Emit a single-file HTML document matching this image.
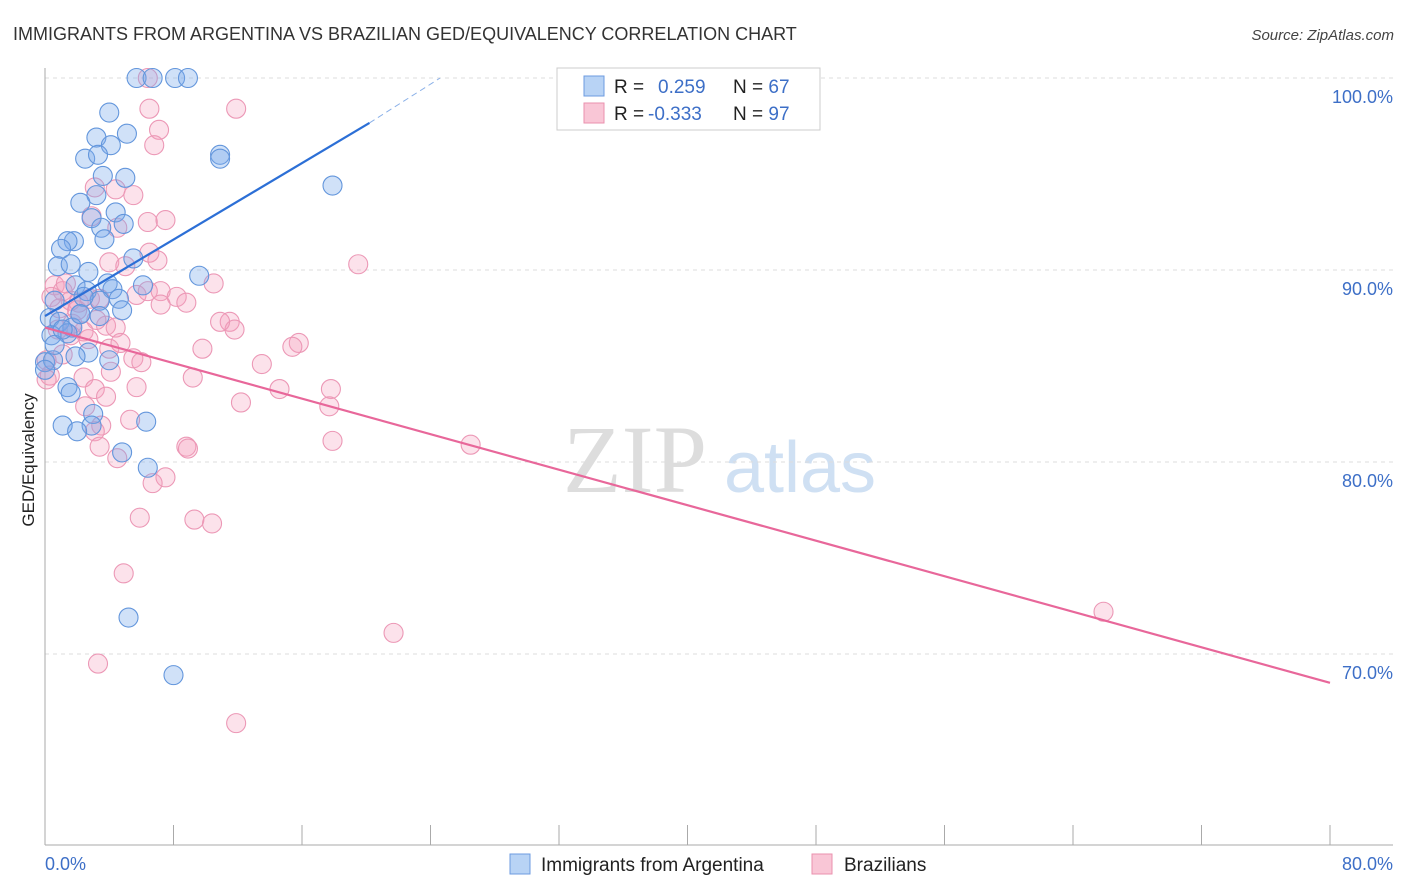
<!DOCTYPE html>
<html><head><meta charset="utf-8"><style>
body{margin:0;background:#fff;font-family:"Liberation Sans",sans-serif}
svg{display:block}
</style></head><body>
<svg id="chart" width="1406" height="892" viewBox="0 0 1406 892" xmlns="http://www.w3.org/2000/svg">
<text x="13" y="40" font-size="18" fill="#333">IMMIGRANTS FROM ARGENTINA VS BRAZILIAN GED/EQUIVALENCY CORRELATION CHART</text>
<text x="1394" y="40" font-size="15" fill="#444" font-style="italic" text-anchor="end">Source: ZipAtlas.com</text>
<text transform="translate(34,460) rotate(-90)" font-size="17" fill="#222" text-anchor="middle">GED/Equivalency</text>
<g><text x="635" y="492" font-size="96" fill="#ddd" font-family="Liberation Serif" text-anchor="middle">ZIP</text><text x="800" y="492" font-size="72" fill="#cfe0f3" text-anchor="middle">atlas</text></g>
<g id="grid"></g><g id="marks"></g><g id="lines"></g>
<g>
<rect x="557" y="68" width="263" height="62" fill="#fff" stroke="#ccc"/>
<rect x="584" y="76" width="20" height="20" fill="#b8d3f5" stroke="#6c9be0"/>
<rect x="584" y="103" width="20" height="20" fill="#f9c6d6" stroke="#ea90ae"/>
<text x="614" y="93" font-size="19" fill="#222">R = <tspan fill="#3d6fc7" x="658">0.259</tspan><tspan fill="#222" x="733">N = </tspan><tspan fill="#3d6fc7">67</tspan></text>
<text x="614" y="120" font-size="19" fill="#222">R = <tspan fill="#3d6fc7" x="648">-0.333</tspan><tspan fill="#222" x="733">N = </tspan><tspan fill="#3d6fc7">97</tspan></text>
</g>
<g>
<rect x="510" y="854" width="20" height="20" fill="#b8d3f5" stroke="#6c9be0"/>
<text x="541" y="871" font-size="19" fill="#222">Immigrants from Argentina</text>
<rect x="812" y="854" width="20" height="20" fill="#f9c6d6" stroke="#ea90ae"/>
<text x="844" y="871" font-size="19" fill="#222">Brazilians</text>
</g>
</svg>
<script>
const yTicks=[100,90,80,70];
const yTickLabels=["100.0%","90.0%","80.0%","70.0%"];
const xTicks=[0,8,16,24,32,40,48,56,64,72,80];
const blueX=[5.7,6.7,8.1,8.9,4.0,3.2,5.1,4.1,2.5,3.3,10.9,10.9,3.6,5.0,17.9,3.2,2.2,2.9,4.4,4.9,3.5,3.7,1.8,1.4,1.0,5.5,0.8,1.6,2.7,9.6,3.9,1.9,2.6,4.2,6.1,3.4,4.6,0.6,4.8,2.2,0.3,0.9,1.7,1.4,0.4,2.7,1.9,0.0,0.5,0.0,1.4,1.6,1.1,3.0,2.9,2.0,6.3,4.8,6.4,5.2,8.0,4.0,0.6,1.1,3.4,2.4,2.2];
const blueY=[100,100,100,100,98.2,96.9,97.1,96.5,95.8,96.0,96.0,95.8,94.9,94.8,94.4,93.9,93.5,92.7,93.0,92.4,92.2,91.6,91.5,91.5,91.1,90.6,90.2,90.3,89.9,89.7,89.3,89.2,88.9,89.0,89.2,88.4,88.5,88.4,87.9,87.7,87.5,87.3,87.0,86.7,86.6,85.7,85.5,85.2,85.3,84.8,83.9,83.6,81.9,82.5,81.9,81.6,82.1,80.5,79.7,71.9,68.9,85.3,86.1,86.9,87.6,88.6,87.7];
const pinkX=[6.4,11.9,6.5,7.1,6.8,3.1,4.4,5.5,6.4,7.5,2.9,4.5,6.5,4.0,5.0,7.0,19.5,10.5,5.7,6.4,7.2,8.2,8.8,7.2,0.6,1.1,1.6,2.1,3.4,11.5,11.8,10.9,3.8,4.4,3.2,2.4,1.6,15.8,15.4,9.8,4.0,4.7,5.5,6.0,13.5,1.1,0.1,0.3,2.4,9.2,4.1,3.1,5.7,14.6,17.8,3.8,2.5,12.2,17.7,5.3,3.5,3.1,17.9,26.5,8.8,8.9,3.4,4.5,7.5,6.7,5.9,9.3,10.4,4.9,65.9,21.7,3.3,11.9,0.9,1.7,2.7,0.4,1.3,0.1,2.0,0.8,2.8];
const pinkY=[100,98.4,98.4,97.3,96.5,94.3,94.2,93.9,92.5,92.6,92.8,92.2,90.9,90.4,90.2,90.5,90.3,89.3,88.7,88.9,88.9,88.6,88.3,88.2,89.2,88.9,88.4,88.3,88.5,87.3,86.9,87.3,87.1,87.0,87.4,86.8,86.6,86.2,86.0,85.9,85.9,86.2,85.4,85.2,85.1,85.6,85.3,84.5,84.4,84.4,84.7,83.8,83.9,83.8,83.8,83.4,82.9,83.1,82.9,82.2,81.9,81.6,81.1,80.9,80.8,80.7,80.8,80.2,79.2,78.9,77.1,77.0,76.8,74.2,72.2,71.1,69.5,66.4,88.0,87.2,86.4,88.6,89.3,84.3,87.9,86.9,88.5];
const blueFit=[[0,87.6],[20.2,97.66]];
const blueDash=[[20.2,97.66],[24.6,100]];
const pinkFit=[[0,87.0],[80,68.5]];
const NS="http://www.w3.org/2000/svg";
const X=v=>45+v*1285/80, Y=v=>78+(100-v)*19.2;
function mk(tag,attrs,parent){const e=document.createElementNS(NS,tag);for(const k in attrs)e.setAttribute(k,attrs[k]);parent.appendChild(e);return e;}
const grid=document.getElementById('grid'),marks=document.getElementById('marks'),lines=document.getElementById('lines');
yTicks.forEach((t,i)=>{
 const l=mk('line',{x1:45,x2:1393,y1:Y(t),y2:Y(t),stroke:'#ddd','stroke-dasharray':'4,4'},grid);
 
 
 const tx=mk('text',{x:1393,y:Y(t)+25,'font-size':18,fill:'#3d6fc7','text-anchor':'end'},grid);
 tx.textContent=yTickLabels[i];
 
 
});
const ax=mk('line',{x1:45,x2:45,y1:68,y2:845,stroke:'#aaa'},grid);


const bx=mk('line',{x1:45,x2:1393,y1:845,y2:845,stroke:'#aaa'},grid);


xTicks.forEach(t=>{
 const l=mk('line',{x1:X(t),x2:X(t),y1:825,y2:845,stroke:'#aaa'},grid);
 
 
});
[[0,'0.0%','start',45],[80,'80.0%','end',1393]].forEach(d=>{
 const tx=mk('text',{x:d[3],y:870,'font-size':18,fill:'#3d6fc7','text-anchor':d[2]},grid);
 tx.textContent=d[1];
 
 
});
function pts(xs,ys,fill,stroke,name){xs.forEach((x,i)=>{
 const c=mk('circle',{cx:X(x),cy:Y(ys[i]),r:9.5,fill:fill,stroke:stroke,'stroke-width':1.1},marks);
 
 
});}
pts(pinkX,pinkY,'rgba(245,160,190,0.3)','#ec98b6','brazilians-point');
pts(blueX,blueY,'rgba(120,170,235,0.35)','#6396dc','argentina-point');
function ln(p,stroke,w,dash,name){const l=mk('line',{x1:X(p[0][0]),y1:Y(p[0][1]),x2:X(p[1][0]),y2:Y(p[1][1]),stroke:stroke,'stroke-width':w},lines);
 if(dash)l.setAttribute('stroke-dasharray',dash);
 
 }
ln(pinkFit,'#e8679a',2.2,null,'brazilians-trendline');
ln(blueFit,'#2c6fd6',2.2,null,'argentina-trendline');
ln(blueDash,'#8ab0e8',1,'6,4','argentina-trendline-extension');
</script>
</body></html>
